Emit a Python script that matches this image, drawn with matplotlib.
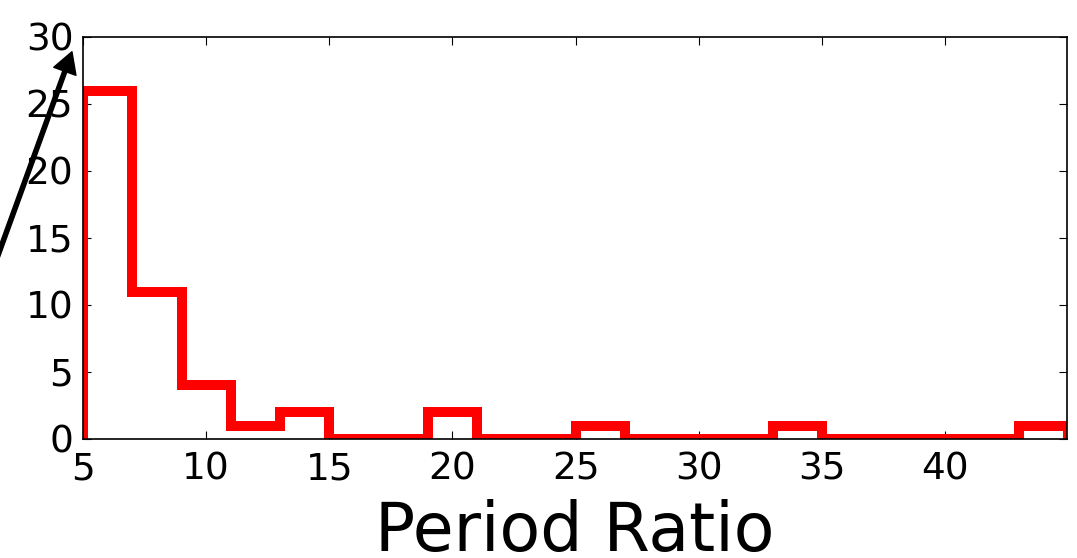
import matplotlib
matplotlib.use('Agg')
import matplotlib.pyplot as plt
import numpy as np

# histogram bins of the period ratio and counts per bin
bin_edges = [5, 7, 9, 11, 13, 15, 17, 19, 21, 23, 25, 27, 29, 31, 33, 35, 37, 39, 41, 43, 45]
counts = [26, 11, 4, 1, 2, 0, 0, 2, 0, 0, 1, 0, 0, 0, 1, 0, 0, 0, 0, 1]
x_ticks = [5, 10, 15, 20, 25, 30, 35, 40]
y_ticks = [0, 5, 10, 15, 20, 25, 30]

fig = plt.figure(figsize=(10.77, 5.58), dpi=100)
ax = fig.add_axes([0.0771, 0.2133, 0.9136, 0.7204])

ax.hist(bin_edges[:-1], bins=bin_edges, weights=counts, histtype='step',
        color='red', linewidth=7.2)

ax.set_xlim(5, 44.95)
ax.set_ylim(0, 30)
ax.set_xticks(x_ticks)
ax.set_yticks(y_ticks)
ax.tick_params(direction='in', top=True, right=True, length=6, width=0.8,
               labelsize=27)
ax.tick_params(axis='x', pad=9)
ax.tick_params(axis='y', pad=7)
for s in ax.spines.values():
    s.set_linewidth(1.2)

ax.set_xlabel('Period Ratio', fontsize=48, labelpad=8)

# arrow coming in from outside the left edge
ax.annotate('', xy=(4.55, 28.9), xytext=(0.4, 7.9),
            arrowprops=dict(facecolor='black', edgecolor='black', width=3,
                            headwidth=17, headlength=15, shrink=0.0),
            annotation_clip=False)

fig.savefig('out.png', dpi=100)
plt.close(fig)
